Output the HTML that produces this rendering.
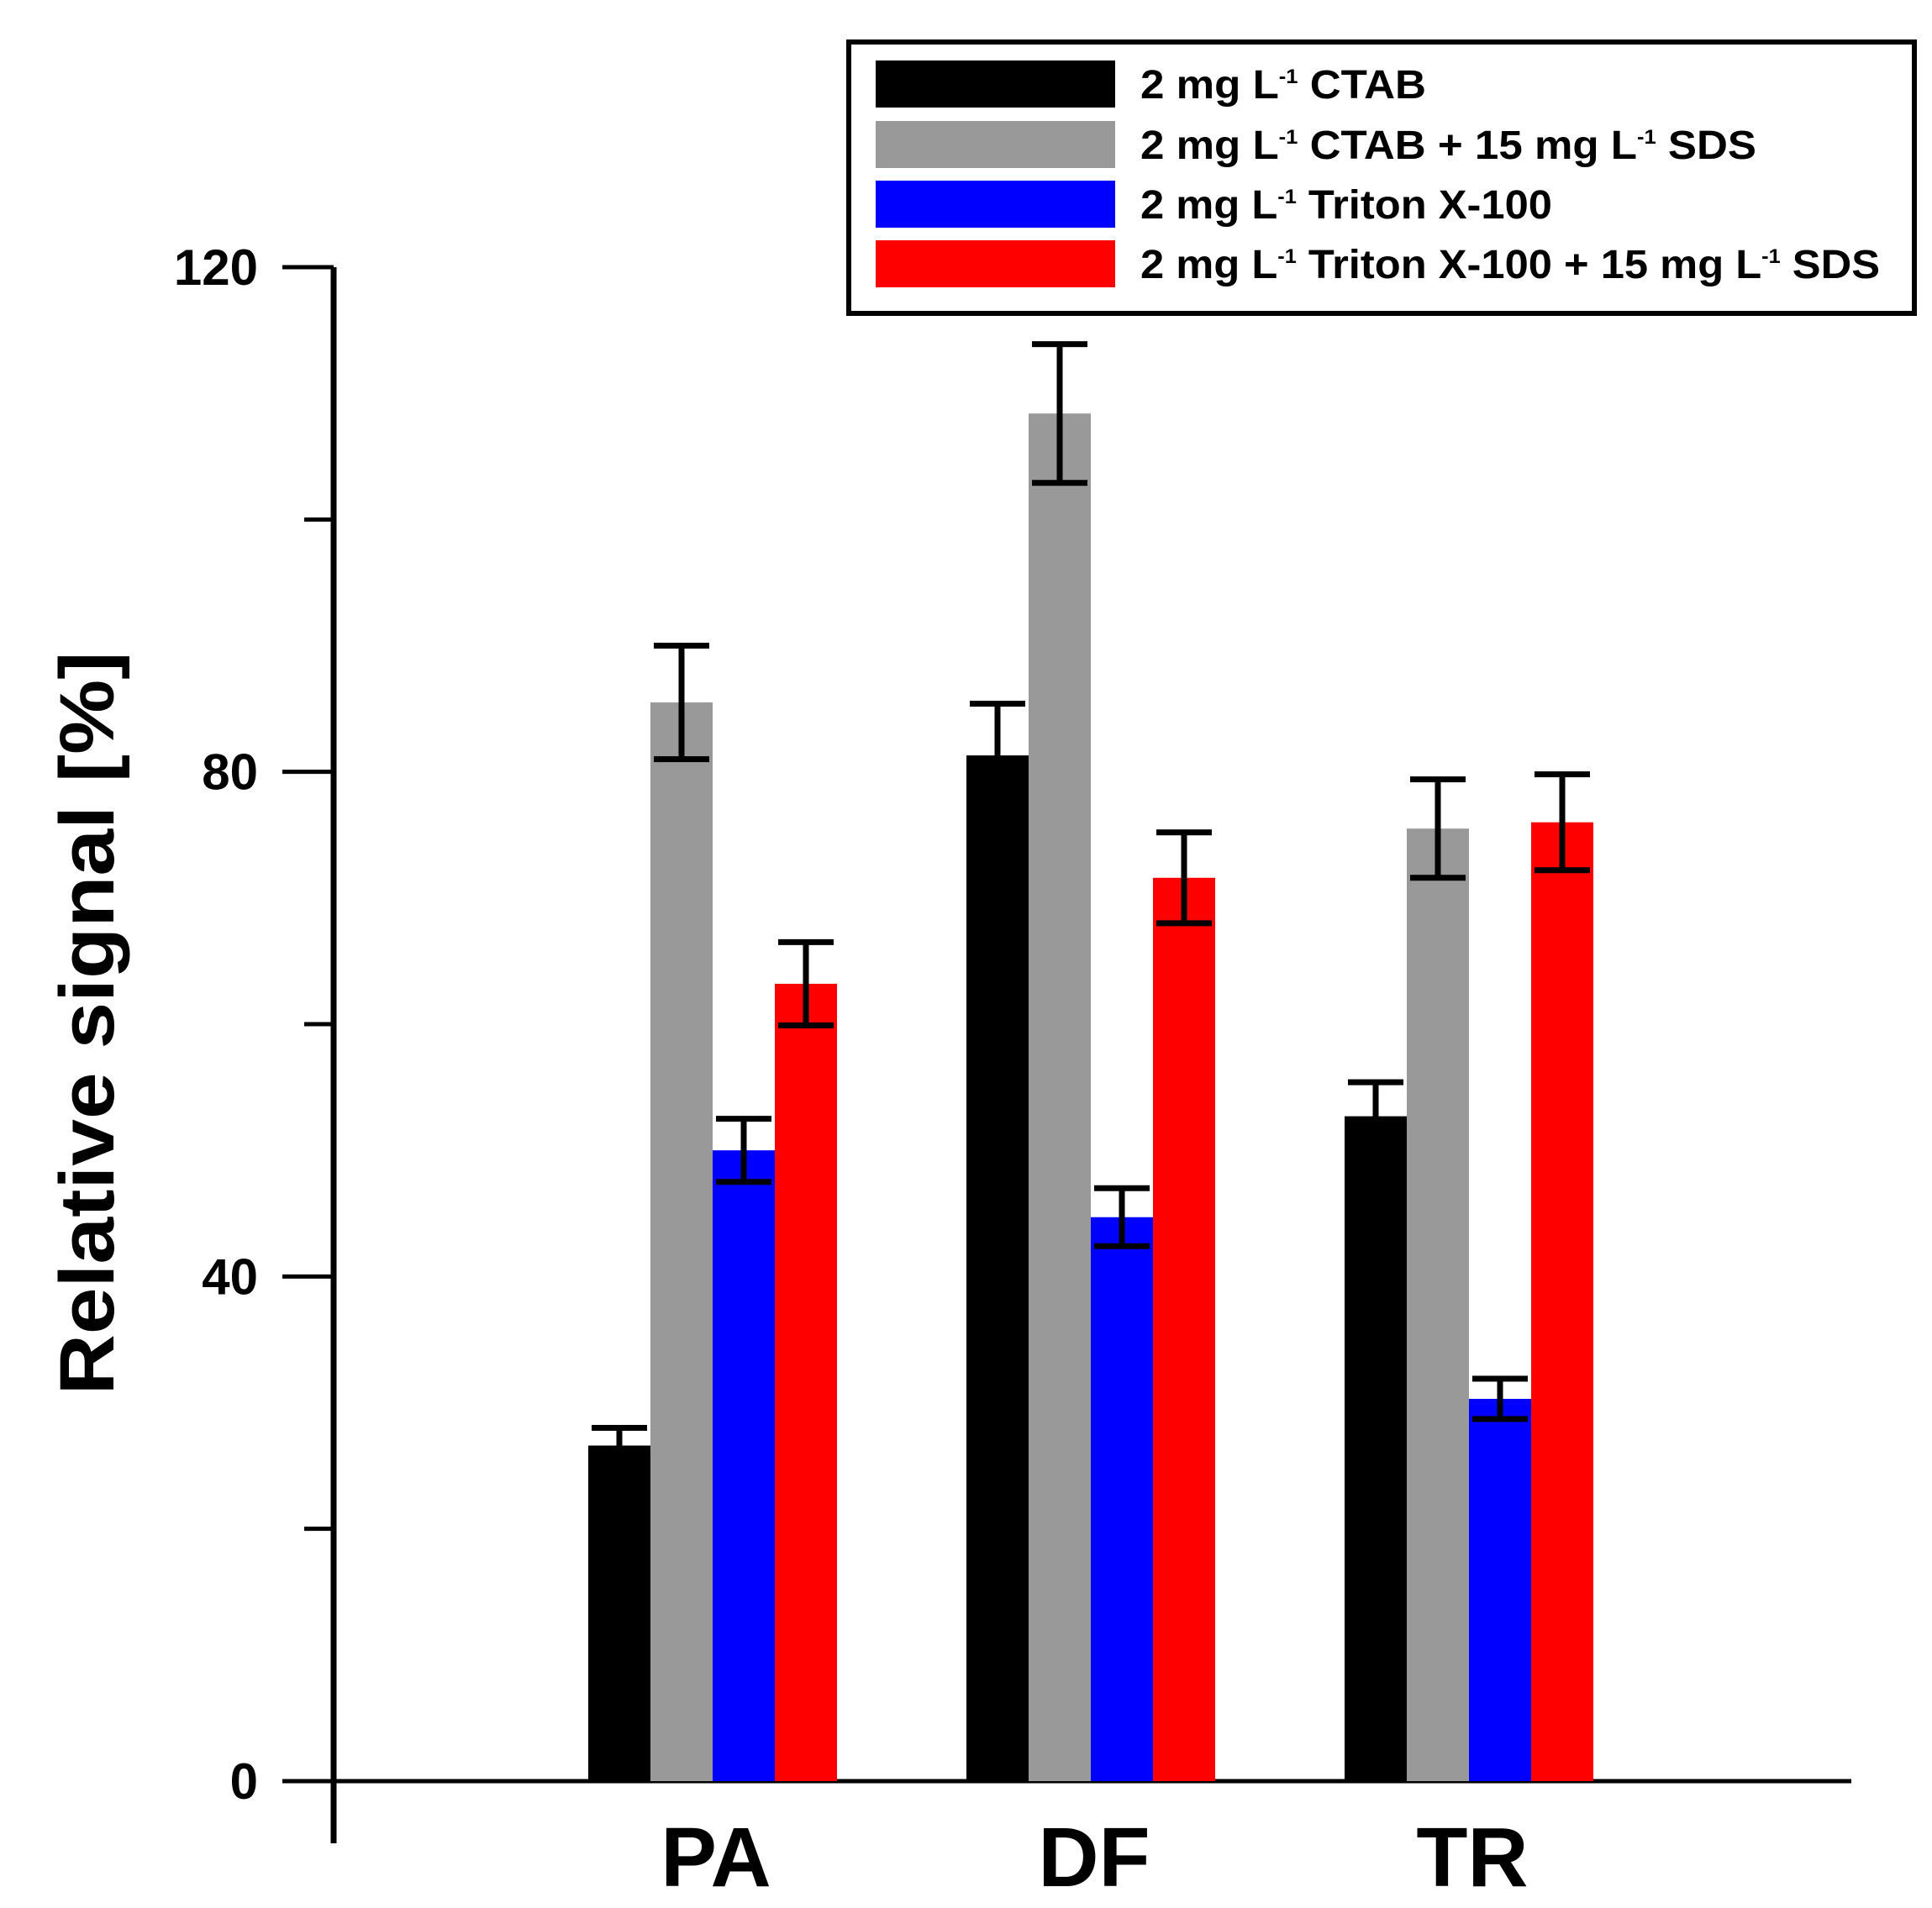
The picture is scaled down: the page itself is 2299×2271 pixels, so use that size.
<!DOCTYPE html>
<html><head><meta charset="utf-8"><style>
html,body{margin:0;padding:0;background:#fff;}
svg{display:block;font-family:"Liberation Sans",Arial,sans-serif;font-weight:bold;}
</style></head><body>
<svg id="chart" width="2299" height="2271" viewBox="0 0 2299 2271" xmlns="http://www.w3.org/2000/svg">
<g id="axes"></g>
<g id="bars"></g>
<g id="legend"></g>
</svg>
<script>
const categories = ["PA", "DF", "TR"];
const seriesNames = ["CTAB", "CTAB + SDS", "Triton", "Triton + SDS"];
const ctabValues = [26.6, 81.3, 52.7];
const ctabSdsValues = [85.5, 108.4, 75.5];
const tritonValues = [50.0, 44.7, 30.3];
const tritonSdsValues = [63.2, 71.6, 76.0];
const ctabErr = [1.4, 4.1, 2.7];
const ctabSdsErr = [4.5, 5.5, 3.9];
const tritonErr = [2.5, 2.3, 1.6];
const tritonSdsErr = [3.3, 3.6, 3.8];
const yTicks = [0, 40, 80, 120];
const yMinorTicks = [20, 60, 100];

const NS = "http://www.w3.org/2000/svg";
const colors = ["#000000", "#999999", "#0000ff", "#ff0000"];
const values = [ctabValues, ctabSdsValues, tritonValues, tritonSdsValues];
const errs = [ctabErr, ctabSdsErr, tritonErr, tritonSdsErr];
const y0 = 2120, y120 = 318;
function yScale(v){ return y0 - (y0 - y120) * v / 120; }
const groupCenter0 = 848, groupStep = 450, barW = 74;
function xCenter(i){ return groupCenter0 + i * groupStep; }
function mk(tag, attrs, parent){ const e = document.createElementNS(NS, tag); for (const k in attrs) e.setAttribute(k, attrs[k]); parent.appendChild(e); return e; }

const axes = document.getElementById('axes');
const bars = document.getElementById('bars');
const legend = document.getElementById('legend');

for (let s = 0; s < 4; s++) {
  for (let i = 0; i < categories.length; i++) {
    const x = xCenter(i) - 2 * barW + s * barW;
    const v = values[s][i];
    const r = mk('rect', {x: x, y: yScale(v), width: barW, height: y0 - yScale(v), fill: colors[s]}, bars);
    
    
    const cx = x + barW / 2, e = errs[s][i];
    const yt = yScale(v + e), yb = yScale(v - e);
    const g = mk('g', {stroke: '#000', 'stroke-width': 7}, bars);
    
    
    mk('line', {x1: cx, x2: cx, y1: yt, y2: yb}, g);
    mk('line', {x1: cx - 33, x2: cx + 33, y1: yt, y2: yt}, g);
    mk('line', {x1: cx - 33, x2: cx + 33, y1: yb, y2: yb}, g);
  }
}

const yAxis = mk('line', {x1: 397, x2: 397, y1: 318, y2: 2194, stroke: '#000', 'stroke-width': 7}, axes);


const xAxis = mk('line', {x1: 336, x2: 2203, y1: y0, y2: y0, stroke: '#000', 'stroke-width': 5}, axes);


yTicks.forEach(t => {
  const y = yScale(t);
  const l = mk('line', {x1: 336, x2: 397, y1: y, y2: y, stroke: '#000', 'stroke-width': 5}, axes);
  
  
  const tx = mk('text', {x: 307, y: y + 21, 'text-anchor': 'end', 'font-size': 60}, axes);
  tx.textContent = t;
  
  
});
yMinorTicks.forEach(t => {
  const y = yScale(t);
  const l = mk('line', {x1: 362, x2: 397, y1: y, y2: y, stroke: '#000', 'stroke-width': 5}, axes);
  
  
});
categories.forEach((c, i) => {
  const t = mk('text', {x: xCenter(i) + 4, y: 2245, 'text-anchor': 'middle', 'font-size': 100}, axes);
  t.textContent = c;
  
  
});
const yTitle = mk('text', {x: 0, y: 0, 'text-anchor': 'middle', 'font-size': 92, transform: 'translate(135,1218) rotate(-90)', textLength: 885, lengthAdjust: 'spacingAndGlyphs'}, axes);
yTitle.textContent = 'Relative signal [%]';



const box = mk('rect', {x: 1010, y: 50, width: 1268, height: 323, fill: '#fff', stroke: '#000', 'stroke-width': 6}, legend);


const labelParts = [
  ['2 mg L', '-1', ' CTAB', 340],
  ['2 mg L', '-1', ' CTAB + 15 mg L', '-1', ' SDS', 733],
  ['2 mg L', '-1', ' Triton X-100', 490],
  ['2 mg L', '-1', ' Triton X-100 + 15 mg L', '-1', ' SDS', 880]
];
const rowY = [100, 172, 243, 314];
for (let s = 0; s < 4; s++) {
  const g = mk('g', {}, legend);
  
  
  mk('rect', {x: 1042, y: rowY[s] - 28, width: 285, height: 56, fill: colors[s]}, g);
  const parts = labelParts[s];
  const w = parts[parts.length - 1];
  const t = mk('text', {x: 1357, y: rowY[s] + 17, 'font-size': 48, textLength: w, lengthAdjust: 'spacingAndGlyphs'}, g);
  for (let p = 0; p < parts.length - 1; p++) {
    const sp = mk('tspan', {}, t);
    if (parts[p] === '-1') { sp.setAttribute('font-size', 24); sp.setAttribute('dy', -18); }
    else if (p > 0 && parts[p-1] === '-1') { sp.setAttribute('dy', 18); }
    sp.textContent = parts[p];
  }
}
</script>
</body></html>
